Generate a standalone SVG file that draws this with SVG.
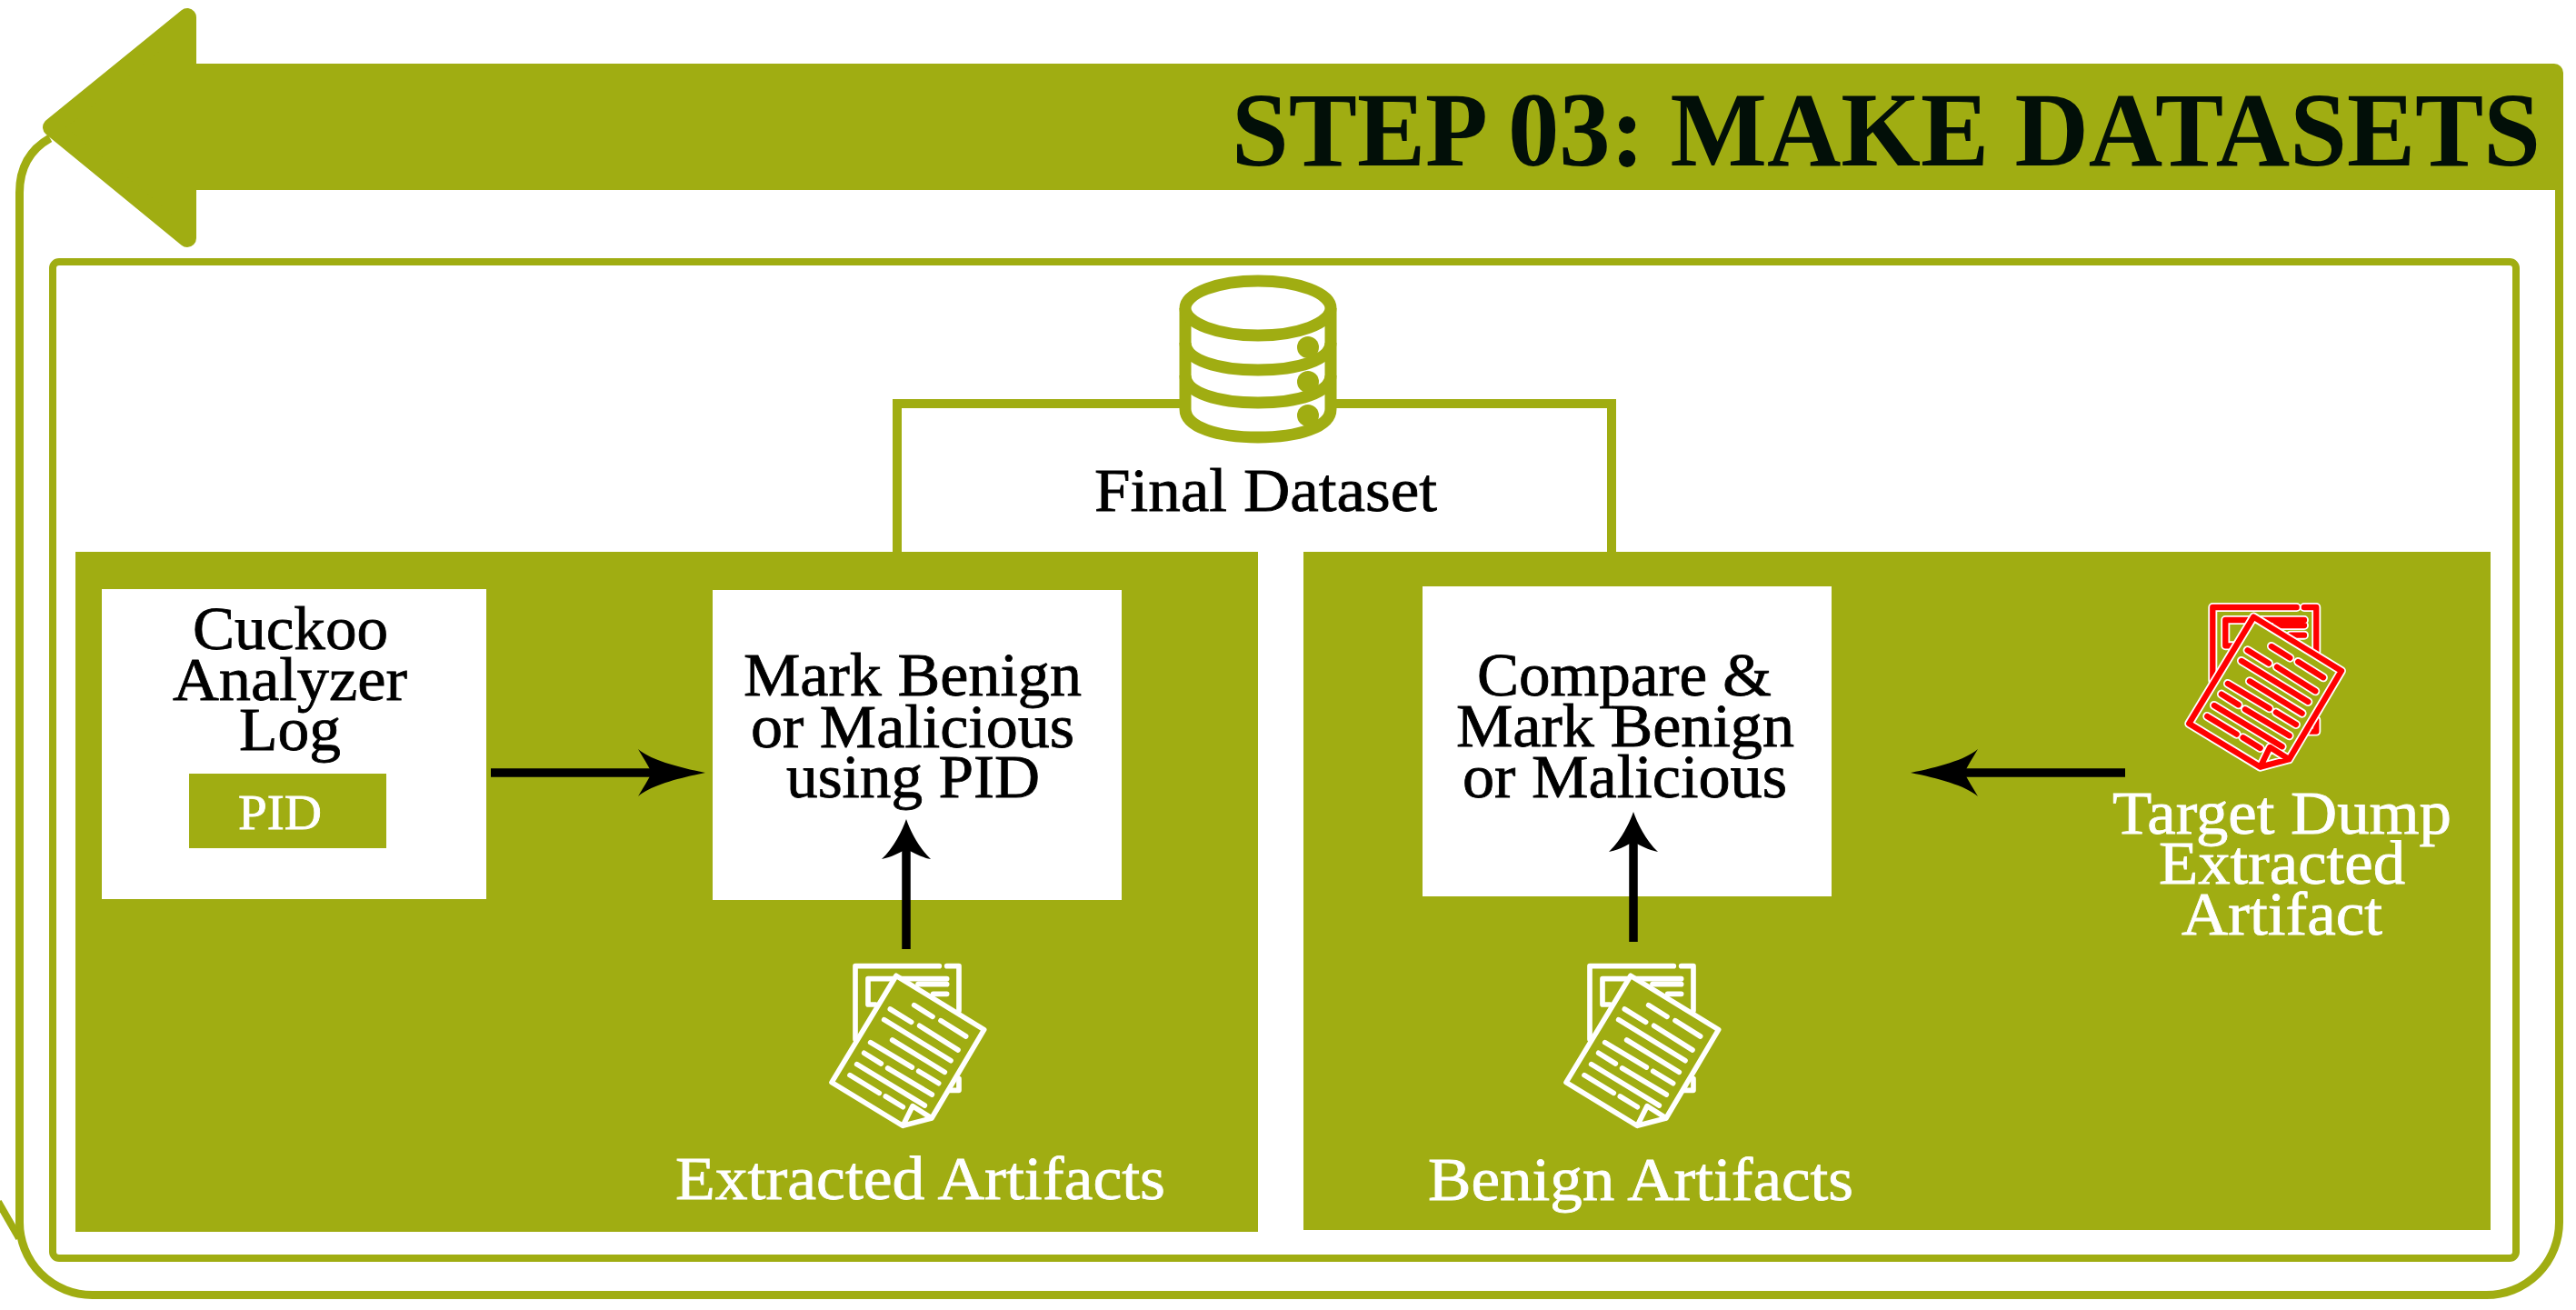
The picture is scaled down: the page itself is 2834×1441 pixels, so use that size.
<svg xmlns="http://www.w3.org/2000/svg" width="2834" height="1441" viewBox="0 0 2834 1441">
<style>
.o{fill:#a0ad12}
.l{fill:none;stroke:#a0ad12}
.w{fill:#fff}
text{font-family:"Liberation Serif","Times New Roman",serif;font-size:68px}
.b{fill:#000;stroke:#000;stroke-width:.8}
.t{fill:#fff;stroke:#fff;stroke-width:.8}
.ar{fill:none;stroke:#000;stroke-width:9.5}
.docs{fill:none;stroke-width:17;stroke-linecap:round;stroke-linejoin:round}
</style>
<defs>
<marker id="ah" markerUnits="userSpaceOnUse" markerWidth="80" markerHeight="60" refX="17" refY="30" orient="auto"><path d="M75 30C45 24 15 16 1 4C7 14 12 22 16 30C12 38 7 46 1 56C15 44 45 36 75 30Z" fill="#000"/></marker>
<marker id="av" markerUnits="userSpaceOnUse" markerWidth="50" markerHeight="60" refX="12" refY="30" orient="auto"><path d="M45 30C33 26 13 16 1 3C3 14 8 22 12 30C8 38 3 46 1 57C13 44 33 34 45 30Z" fill="#000"/></marker>
<g id="doc-back">
<path d="M460 68H183V310M485 68H525V215M525 440V478H490M300 110H225V195H250M300 110H485M390 128H485M440 160H485"/>
</g>
<polygon id="doc-sheet" points="318,100 608,278 435,570 340,595 105,452"/>
<g id="doc-front">
<path d="M318 100L608 278L435 570L340 595L105 452ZM340 595L372 530L435 570M377 197L438 235M298 210L368 253M465 248L548 300M278 245L498 380M395 265L522 345M305 312L478 418M233 320L370 402M212 355L268 390M392 415L458 455M290 405L436 492M188 392L412 528M165 428L262 487M283 498L340 533"/>
</g>
</defs>
<rect width="2834" height="1441" fill="#fff"/>
<g id="frame">
<path class="l" stroke-width="9" d="M55 152C32 165 21.5 185 21.5 212V1344A80 80 0 0 0 101.500 1424.500H2735A80 80 0 0 0 2815.500 1344V205"/>
<path class="l" stroke-width="8" d="M-2 1322L21 1362"/>
<rect class="l" x="58" y="288" width="2710" height="1096" rx="7" stroke-width="8"/>
</g>
<g id="step-banner">
<polygon class="o" points="57,140 206,19 206,262" stroke="#a0ad12" stroke-width="20" stroke-linejoin="round"/>
<path class="o" d="M205 70H2810A10 10 0 0 1 2820 80V209H205Z"/>
<text x="1355" y="182" style="font-size:116px;font-weight:700" fill="#020f08" textLength="1440" lengthAdjust="spacingAndGlyphs">STEP 03: MAKE DATASETS</text>
</g>
<g id="panel-left"><rect class="o" x="83" y="607" width="1301" height="748"/></g>
<g id="panel-right"><rect class="o" x="1434" y="607" width="1306" height="746"/></g>
<g id="cuckoo-log">
<rect class="w" x="112" y="648" width="423" height="341"/>
<text class="b" x="212" y="714" textLength="215" lengthAdjust="spacingAndGlyphs">Cuckoo</text>
<text class="b" x="190" y="770" textLength="258" lengthAdjust="spacingAndGlyphs">Analyzer</text>
<text class="b" x="263" y="825" textLength="112" lengthAdjust="spacingAndGlyphs">Log</text>
<rect class="o" x="208" y="851" width="217" height="82"/>
<text class="t" x="262" y="912" style="font-size:55px" textLength="92" lengthAdjust="spacingAndGlyphs">PID</text>
</g>
<g id="mark-pid">
<rect class="w" x="784" y="649" width="450" height="341"/>
<text class="b" x="818" y="765" textLength="372" lengthAdjust="spacingAndGlyphs">Mark Benign</text>
<text class="b" x="826" y="822" textLength="356" lengthAdjust="spacingAndGlyphs">or Malicious</text>
<text class="b" x="865" y="877" textLength="279" lengthAdjust="spacingAndGlyphs">using PID</text>
</g>
<g id="compare-mark">
<rect class="w" x="1565" y="645" width="450" height="341"/>
<text class="b" x="1625" y="765" textLength="324" lengthAdjust="spacingAndGlyphs">Compare &amp;</text>
<text class="b" x="1602" y="821" textLength="372" lengthAdjust="spacingAndGlyphs">Mark Benign</text>
<text class="b" x="1609" y="877" textLength="357" lengthAdjust="spacingAndGlyphs">or Malicious</text>
</g>
<g id="connectors">
<path class="l" stroke-width="10" d="M987 607V444H1773V607"/>
<path class="ar" d="M540 850H718" marker-end="url(#ah)"/>
<path class="ar" d="M2338 850H2160" marker-end="url(#ah)"/>
<path class="ar" d="M997 1044V934" marker-end="url(#av)"/>
<path class="ar" d="M1797 1036V926" marker-end="url(#av)"/>
</g>
<g id="final-dataset">
<g fill="#fff" stroke="#a0ad12" stroke-width="13">
<path d="M1304 339V450C1304 470 1340 481 1384 481C1428 481 1464 470 1464 450V339"/>
<path fill="none" d="M1304 377C1304 396 1340 407 1384 407C1428 407 1464 396 1464 377M1304 413C1304 432 1340 443 1384 443C1428 443 1464 432 1464 413"/>
<ellipse cx="1384" cy="339" rx="80" ry="30"/>
</g>
<circle class="o" cx="1439" cy="382" r="12"/>
<circle class="o" cx="1439" cy="420" r="12"/>
<circle class="o" cx="1439" cy="457" r="12"/>
<text class="b" x="1204" y="562" textLength="377" lengthAdjust="spacingAndGlyphs">Final Dataset</text>
</g>
<g id="extracted-artifacts">
<g class="docs" stroke="#fff" transform="translate(880 1040) scale(.3333)">
<use href="#doc-back"/><use href="#doc-sheet" fill="#a0ad12" stroke="none"/><use href="#doc-front"/>
</g>
<text class="t" x="743" y="1319" textLength="539" lengthAdjust="spacingAndGlyphs">Extracted Artifacts</text>
</g>
<g id="benign-artifacts">
<g class="docs" stroke="#fff" transform="translate(1688 1040) scale(.3333)">
<use href="#doc-back"/><use href="#doc-sheet" fill="#a0ad12" stroke="none"/><use href="#doc-front"/>
</g>
<text class="t" x="1571" y="1320" textLength="468" lengthAdjust="spacingAndGlyphs">Benign Artifacts</text>
</g>
<g id="target-dump">
<g class="docs" transform="translate(2373.300 645.300) scale(.3333)">
<use href="#doc-back" stroke="#fff" style="stroke-width:30"/>
<use href="#doc-back" stroke="#f00" style="stroke-width:19"/>
<use href="#doc-sheet" fill="#a0ad12" stroke="none"/>
<use href="#doc-front" stroke="#fff" style="stroke-width:30"/>
<use href="#doc-front" stroke="#f00" style="stroke-width:19"/>
</g>
<text class="t" x="2324" y="917" textLength="373" lengthAdjust="spacingAndGlyphs">Target Dump</text>
<text class="t" x="2375" y="972" textLength="271" lengthAdjust="spacingAndGlyphs">Extracted</text>
<text class="t" x="2400" y="1028" textLength="221" lengthAdjust="spacingAndGlyphs">Artifact</text>
</g>
</svg>
